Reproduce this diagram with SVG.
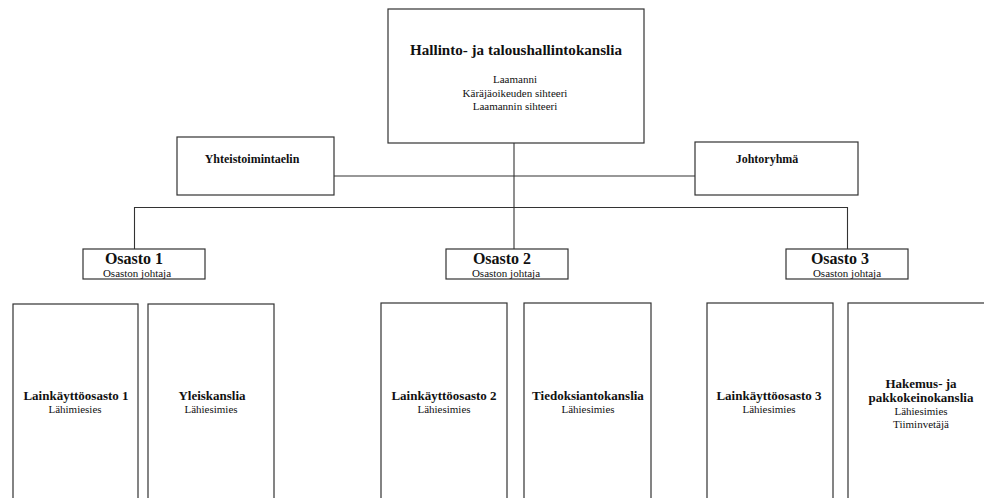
<svg xmlns="http://www.w3.org/2000/svg" width="984" height="498" viewBox="0 0 984 498">
<style>
.box{fill:#fff;stroke:#333;stroke-width:1.2}
.ln{fill:none;stroke:#333;stroke-width:1.1}
text{font-family:"Liberation Serif","Times New Roman",serif;fill:#111;text-anchor:middle}
.b{font-weight:bold}
.t16{font-size:16px}
.t14{font-size:14px}
.t13{font-size:13px}
.t12{font-size:12px}
.s{font-size:11px}
</style>
<rect width="984" height="498" fill="#fff"/>
<g id="connectors">
<path class="ln" d="M514 143V249"/>
<path class="ln" d="M334 176H695"/>
<path class="ln" d="M134.5 249V207.5H847.5V249"/>
</g>
<g id="hallinto">
<rect class="box" x="388" y="9" width="256" height="134"/>
<text class="b t14" x="516" y="55" textLength="212" lengthAdjust="spacingAndGlyphs">Hallinto- ja taloushallintokanslia</text>
<text class="s" x="515" y="83">Laamanni</text>
<text class="s" x="515" y="97">Käräjäoikeuden sihteeri</text>
<text class="s" x="515" y="110">Laamannin sihteeri</text>
</g>
<g id="yhteistoimintaelin">
<rect class="box" x="177" y="137" width="157" height="58"/>
<text class="b t12" x="252" y="163">Yhteistoimintaelin</text>
</g>
<g id="johtoryhma">
<rect class="box" x="695" y="142" width="163" height="53"/>
<text class="b t12" x="767" y="163">Johtoryhmä</text>
</g>
<g id="osasto1">
<rect class="box" x="83" y="249" width="122" height="30"/>
<text class="b t16" x="134" y="264">Osasto 1</text>
<text class="s" x="137" y="277">Osaston johtaja</text>
</g>
<g id="osasto2">
<rect class="box" x="446" y="249" width="122" height="30"/>
<text class="b t16" x="502" y="264">Osasto 2</text>
<text class="s" x="506" y="277">Osaston johtaja</text>
</g>
<g id="osasto3">
<rect class="box" x="786" y="249" width="122" height="30"/>
<text class="b t16" x="840" y="264">Osasto 3</text>
<text class="s" x="847" y="277">Osaston johtaja</text>
</g>
<g id="lainkayttoosasto1">
<rect class="box" x="13" y="304" width="125" height="210"/>
<text class="b t13" x="76" y="400">Lainkäyttöosasto 1</text>
<text class="s" x="75" y="413">Lähimiesies</text>
</g>
<g id="yleiskanslia">
<rect class="box" x="148" y="304" width="126" height="210"/>
<text class="b t13" x="212" y="400">Yleiskanslia</text>
<text class="s" x="211" y="413">Lähiesimies</text>
</g>
<g id="lainkayttoosasto2">
<rect class="box" x="381" y="303" width="126" height="210"/>
<text class="b t13" x="444" y="400">Lainkäyttöosasto 2</text>
<text class="s" x="444" y="413">Lähiesimies</text>
</g>
<g id="tiedoksiantokanslia">
<rect class="box" x="524" y="303" width="127" height="210"/>
<text class="b t13" x="588" y="400">Tiedoksiantokanslia</text>
<text class="s" x="588" y="413">Lähiesimies</text>
</g>
<g id="lainkayttoosasto3">
<rect class="box" x="707" y="303" width="126" height="210"/>
<text class="b t13" x="769" y="400">Lainkäyttöosasto 3</text>
<text class="s" x="769" y="413">Lähiesimies</text>
</g>
<g id="hakemus">
<rect class="box" x="848" y="303" width="150" height="210"/>
<text class="b t13" x="921" y="388">Hakemus- ja</text>
<text class="b t13" x="921" y="402">pakkokeinokanslia</text>
<text class="s" x="921" y="415">Lähiesimies</text>
<text class="s" x="921" y="428">Tiiminvetäjä</text>
</g>
</svg>
